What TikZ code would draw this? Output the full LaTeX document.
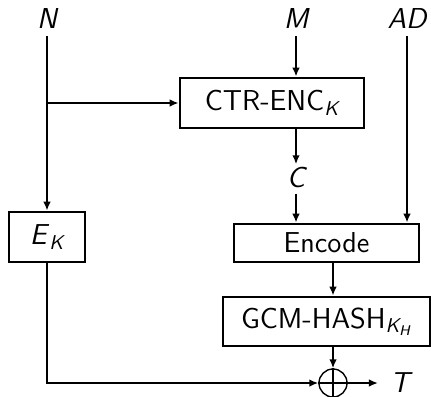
\documentclass[tikz,border=0pt]{standalone}
\usetikzlibrary{arrows.meta}
\newcommand{\sub}[1]{\textsubscript{\itshape #1}}
\tikzset{
  >={Latex[length=4.5pt,width=3.8pt]},
  blk/.style={draw,line width=1.4pt,inner sep=0pt,font=\Large\sffamily},
  inlbl/.style={font=\Large\sffamily\itshape,inner sep=0pt},
  wire/.style={->,line width=1.4pt},
  xorc/.style={circle,draw,line width=0.7pt,minimum size=14pt,inner sep=0pt},
}

\begin{document}
\begin{tikzpicture}[x=0.5pt,y=-0.5pt]
  \useasboundingbox (0,0) rectangle (431,396);
  \node[inlbl] (nlab) at (47,19) {N};
  \node[inlbl] (mlab) at (296,19) {M};
  \node[inlbl] (adlab) at (407,19) {AD};
  \node[blk,minimum width=92pt,minimum height=25pt] (ctr) at (272,103) {CTR-ENC\sub{K}};
  \node[inlbl,inner sep=1pt] (clab) at (296,177) {C};
  \node[blk,minimum width=38pt,minimum height=25pt] (ek) at (47,237) {\textit{E}\sub{K}};
  \node[blk,minimum width=92.5pt,minimum height=19pt] (enc) at (326.5,243) {Encode};
  \node[blk,minimum width=103.5pt,minimum height=24.5pt] (gcm) at (326.5,321.5) {GCM-HASH\sub{K\sub{H}}};
  \node[xorc] (xor) at (333,383) {};
  \node[inlbl,inner xsep=6pt] (tlab) at (400,383) {T};
  \coordinate (nsplit) at (47,103);
  \draw[wire,shorten <=3.5pt] (nlab.south) -- (ek.north);
  \draw[wire] (nsplit) -- (ctr.west);
  \draw[wire,shorten <=3.5pt] (mlab.south) -- (mlab.south |- ctr.north);
  \draw[wire] (ctr.south -| clab) -- (clab.north);
  \draw[wire,shorten <=2pt] (clab.south) -- (clab.south |- enc.north);
  \draw[wire,shorten <=3.5pt] (adlab.south) -- (adlab.south |- enc.north);
  \draw[wire] (enc.south -| xor) -- (gcm.north -| xor);
  \draw[wire] (gcm.south -| xor) -- (xor.north);
  \draw[wire] (ek.south) |- (xor.west);
  \draw[wire] (xor.east) -- (tlab.west);
  \draw[line width=0.7pt] (xor.north) -- (xor.south) (xor.west) -- (xor.east);
\end{tikzpicture}
\end{document}
